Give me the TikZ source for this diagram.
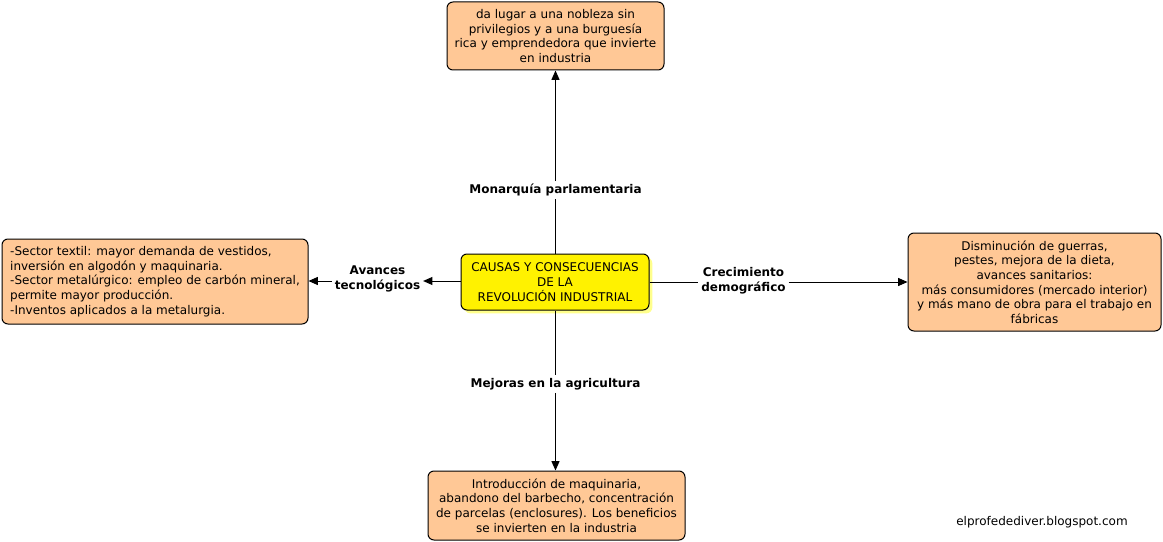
\documentclass[tikz,border=0pt]{standalone}
\usepackage{fontspec}
\setmainfont{DejaVu Sans}
\usetikzlibrary{arrows.meta,shadows}
\begin{document}
\begin{tikzpicture}[x=0.75pt,y=-0.75pt,
  every node/.style={font=\fontsize{9}{11}\selectfont},
  box/.style={draw=black, line width=0.75pt, rounded corners=4.5pt, fill=peach, align=center, inner sep=0pt},
  core/.style={draw=black, line width=0.75pt, rounded corners=4.5pt, fill=yellow, align=center, inner sep=0pt,
     general shadow={fill=shadowyellow, shadow xshift=2.5pt, shadow yshift=-2.5pt}},
  lab/.style={font=\fontsize{9}{11}\selectfont\bfseries, align=center, inner sep=2pt},
  conn/.style={line width=0.75pt},
  arr/.style={line width=0.75pt, -{Triangle[length=7pt,width=6pt]}}
]
\definecolor{peach}{RGB}{255,200,150}
\definecolor{shadowyellow}{RGB}{255,255,140}
\useasboundingbox[fill=white] (0,0) rectangle (1163,542);

\node[core, minimum width=141pt, minimum height=42pt] (c) at (555,282)
  {CAUSAS Y CONSECUENCIAS\\DE LA\\REVOLUCIÓN INDUSTRIAL};

\node[box, minimum width=162.75pt, minimum height=51pt] (top) at (555.5,36)
  {da lugar a una nobleza sin\\privilegios y a una burguesía\\rica y emprendedora que invierte\\en industria};

\node[box, minimum width=229.5pt, minimum height=63.75pt, align=left] (left) at (155,281.5)
  {-Sector textil: mayor demanda de vestidos,\\inversión en algodón y maquinaria.\\-Sector metalúrgico: empleo de carbón mineral,\\permite mayor producción.\\-Inventos aplicados a la metalurgia.};

\node[box, minimum width=189.75pt, minimum height=73.5pt] (right) at (1034.5,282)
  {Disminución de guerras,\\pestes, mejora de la dieta,\\avances sanitarios:\\más consumidores (mercado interior)\\y más mano de obra para el trabajo en\\fábricas};

\node[box, minimum width=192.75pt, minimum height=51.75pt] (bot) at (556.5,505.5)
  {Introducción de maquinaria,\\abandono del barbecho, concentración\\de parcelas (enclosures). Los beneficios\\se invierten en la industria};

\node[lab] (ltop) at (555.5,190) {Monarquía parlamentaria};
\node[lab] (lleft) at (377.5,279) {Avances\\tecnológicos};
\node[lab] (lright) at (743.5,281) {Crecimiento\\demográfico};
\node[lab] (lbot) at (555.5,384) {Mejoras en la agricultura};

\node (wm) at (1042,522) {elprofedediver.blogspot.com};

\draw[conn] (c.north -| ltop.south) -- (ltop.south);
\draw[arr] (ltop.north) -- (top.south -| ltop.north);

\draw[arr] (c.west |- 0,281) -- (lleft.east |- 0,281);
\draw[arr] (lleft.west |- 0,281) -- (left.east |- 0,281);

\draw[conn] (c.east |- 0,282) -- (lright.west |- 0,282);
\draw[arr] (lright.east |- 0,282) -- (right.west);

\draw[conn] (c.south -| lbot.north) -- (lbot.north);
\draw[arr] (lbot.south) -- (bot.north -| lbot.south);
\end{tikzpicture}
\end{document}
